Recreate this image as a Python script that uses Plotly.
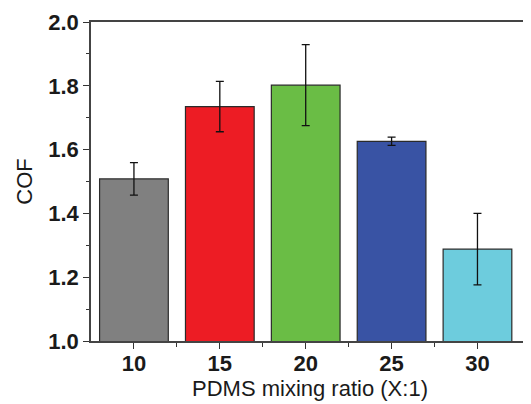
import plotly.graph_objects as go

ratios = [10, 15, 20, 25, 30]
cof = [1.508, 1.735, 1.802, 1.626, 1.288]
cof_err = [0.051, 0.079, 0.127, 0.013, 0.112]
colors = ["#808080", "#ED1C24", "#6ABD45", "#3953A4", "#6DCCDD"]
y_ticks = [1.0, 1.2, 1.4, 1.6, 1.8, 2.0]
y_ticktext = ["1.0", "1.2", "1.4", "1.6", "1.8", "2.0"]

fig = go.Figure()
fig.add_trace(go.Bar(
    x=ratios, y=cof, width=4.0, base=0,
    marker=dict(color=colors, line=dict(color="#2a2a2a", width=1.2)),
    error_y=dict(type="data", array=cof_err, visible=True,
                 color="#111111", thickness=1.3, width=4),
))

fig.update_layout(
    width=523, height=396,
    margin=dict(l=83, r=2, t=14, b=63, autoexpand=False),
    paper_bgcolor="white", plot_bgcolor="white",
    showlegend=False,
    font=dict(family="Liberation Sans, Arial", color="#1a1a1a"),
)
fig.update_xaxes(
    range=[7.5, 33], tickvals=ratios, ticktext=[str(r) for r in ratios],
    tickfont=dict(family="Liberation Sans, Arial", size=22, color="#1a1a1a", weight="bold"),
    ticks="outside", ticklen=6, tickwidth=1.3, tickcolor="#333", ticklabelstandoff=-4,
    minor=dict(tickvals=[12.5, 17.5, 22.5, 27.5], ticks="outside", ticklen=4, tickwidth=1.3, tickcolor="#333"),
    showline=True, linecolor="#444", linewidth=1.5, mirror=True,
    showgrid=False, zeroline=False, automargin=False,
    title=dict(text="PDMS mixing ratio (X:1)", font=dict(size=22, family="Liberation Sans, Arial", color="#1a1a1a"), standoff=1),
)
fig.update_yaxes(
    range=[1.0, 2.0], tickvals=y_ticks, ticktext=y_ticktext,
    tickfont=dict(family="Liberation Sans, Arial", size=22, color="#1a1a1a", weight="bold"),
    ticks="outside", ticklen=6, tickwidth=1.3, tickcolor="#333",
    minor=dict(dtick=0.1, ticks="outside", ticklen=3, tickwidth=1.3, tickcolor="#333"),
    showline=True, linecolor="#444", linewidth=1.5, mirror=True,
    showgrid=False, zeroline=False, automargin=False,
    title=dict(text="COF", font=dict(size=22, family="Liberation Sans, Arial", color="#1a1a1a"), standoff=10),
)

fig.write_html("out.html")
